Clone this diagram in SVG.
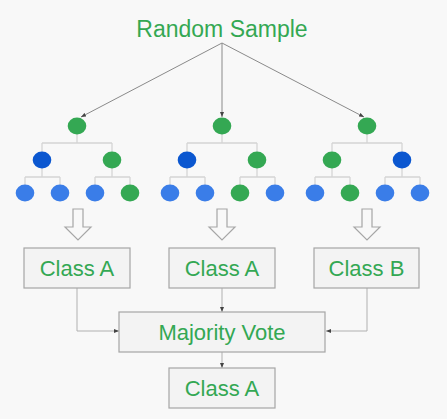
<svg xmlns="http://www.w3.org/2000/svg" width="447" height="419" viewBox="0 0 447 419">
<style>
.t{font-family:"Liberation Sans",Arial,sans-serif;fill:#34a853;text-anchor:middle}
.g{fill:#34a853}
.b{fill:#3a7de8}
.d{fill:#0b57d0}
.tree{fill:none;stroke:#d4d4d4;stroke-width:1.3}
.box{fill:#f3f3f3;stroke:#a6a6a6;stroke-width:1.2}
.blk{fill:#f8f8f8;stroke:#a6a6a6;stroke-width:1.2}
.con{fill:none;stroke:#8a8a8a;stroke-width:1}
.con2{fill:none;stroke:#b0b0b0;stroke-width:1}
</style>
<defs>
<marker id="ah" viewBox="0 0 10 10" refX="10" refY="5" markerWidth="5" markerHeight="5" orient="auto" markerUnits="userSpaceOnUse">
<path d="M0,1 L10,5 L0,9 z" fill="#444"/>
</marker>
</defs>
<rect width="447" height="419" fill="#f8f8f8"/>
<g id="title"><text class="t" x="222" y="37" font-size="23">Random Sample</text></g>
<g id="connectors">
<path class="con" d="M222,43 L81,117" marker-end="url(#ah)"/>
<path class="con" d="M222,43 L222,117" marker-end="url(#ah)"/>
<path class="con" d="M222,43 L364,117" marker-end="url(#ah)"/>
<path class="con2" d="M77,288 L77,331 L119,331" marker-end="url(#ah)"/>
<path class="con2" d="M222,288 L222,312" marker-end="url(#ah)"/>
<path class="con2" d="M367,288 L367,331 L326,331" marker-end="url(#ah)"/>
<path class="con2" d="M222,352 L222,368" marker-end="url(#ah)"/>
</g>
<g id="tree1">
<path class="tree" d="M77,126 V143 M42,143 H112 M42,143 V160 M112,143 V160 M42,160 V177 M25,177 H60 M25,177 V193 M60,177 V193 M112,160 V177 M95,177 H130 M95,177 V193 M130,177 V193"/>
<ellipse class="g" cx="77" cy="126" rx="9.3" ry="8.5"/>
<ellipse class="d" cx="42" cy="160" rx="9.3" ry="8.5"/>
<ellipse class="g" cx="112" cy="160" rx="9.3" ry="8.5"/>
<ellipse class="b" cx="25" cy="193" rx="9.3" ry="8.5"/>
<ellipse class="b" cx="60" cy="193" rx="9.3" ry="8.5"/>
<ellipse class="b" cx="95" cy="193" rx="9.3" ry="8.5"/>
<ellipse class="g" cx="130" cy="193" rx="9.3" ry="8.5"/>
</g>
<g id="tree2">
<path class="tree" d="M222,126 V143 M187,143 H257 M187,143 V160 M257,143 V160 M187,160 V177 M170,177 H205 M170,177 V193 M205,177 V193 M257,160 V177 M240,177 H275 M240,177 V193 M275,177 V193"/>
<ellipse class="g" cx="222" cy="126" rx="9.3" ry="8.5"/>
<ellipse class="d" cx="187" cy="160" rx="9.3" ry="8.5"/>
<ellipse class="g" cx="257" cy="160" rx="9.3" ry="8.5"/>
<ellipse class="b" cx="170" cy="193" rx="9.3" ry="8.5"/>
<ellipse class="b" cx="205" cy="193" rx="9.3" ry="8.5"/>
<ellipse class="g" cx="240" cy="193" rx="9.3" ry="8.5"/>
<ellipse class="b" cx="275" cy="193" rx="9.3" ry="8.5"/>
</g>
<g id="tree3">
<path class="tree" d="M367,126 V143 M332,143 H402 M332,143 V160 M402,143 V160 M332,160 V177 M315,177 H350 M315,177 V193 M350,177 V193 M402,160 V177 M385,177 H420 M385,177 V193 M420,177 V193"/>
<ellipse class="g" cx="367" cy="126" rx="9.3" ry="8.5"/>
<ellipse class="g" cx="332" cy="160" rx="9.3" ry="8.5"/>
<ellipse class="d" cx="402" cy="160" rx="9.3" ry="8.5"/>
<ellipse class="b" cx="315" cy="193" rx="9.3" ry="8.5"/>
<ellipse class="g" cx="350" cy="193" rx="9.3" ry="8.5"/>
<ellipse class="b" cx="385" cy="193" rx="9.3" ry="8.5"/>
<ellipse class="b" cx="420" cy="193" rx="9.3" ry="8.5"/>
</g>
<g id="arrow1"><path class="blk" d="M73,209 H83 V227 H91 L78,240 L65,227 H73 Z"/></g>
<g id="arrow2"><path class="blk" d="M217,209 H227 V227 H235 L222,240 L209,227 H217 Z"/></g>
<g id="arrow3"><path class="blk" d="M362,209 H372 V227 H380 L367,240 L354,227 H362 Z"/></g>
<g id="classA1"><rect class="box" x="24" y="248" width="106" height="40"/><text class="t" x="77" y="276" font-size="22">Class A</text></g>
<g id="classA2"><rect class="box" x="169" y="248" width="106" height="40"/><text class="t" x="222" y="276" font-size="22">Class A</text></g>
<g id="classB"><rect class="box" x="314" y="248" width="105" height="40"/><text class="t" x="366.5" y="276" font-size="22">Class B</text></g>
<g id="vote"><rect class="box" x="119" y="312" width="206" height="40"/><text class="t" x="222" y="340" font-size="22">Majority Vote</text></g>
<g id="result"><rect class="box" x="169" y="368" width="106" height="40"/><text class="t" x="222" y="396" font-size="22">Class A</text></g>
</svg>
